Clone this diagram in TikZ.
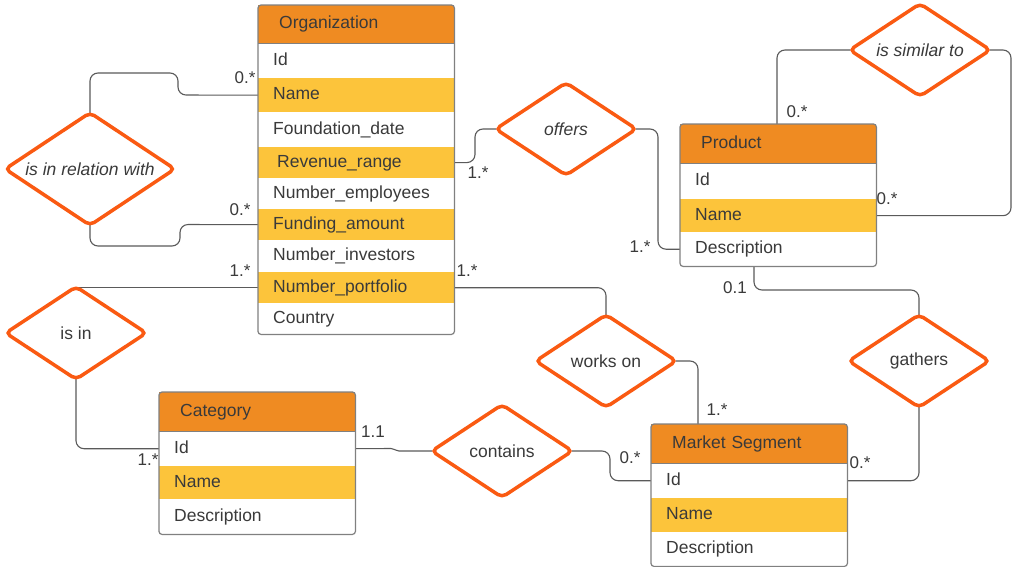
\documentclass[tikz,border=0pt]{standalone}
\usepackage{fontspec}
\setmainfont{Liberation Sans}
\usetikzlibrary{shapes.geometric,fit,calc}
\definecolor{hdr}{HTML}{EF8B22}
\definecolor{ylw}{HTML}{FCC43B}
\definecolor{dia}{HTML}{FA5A12}
\definecolor{ln}{HTML}{5A5A5A}
\definecolor{txt}{HTML}{3A3A3A}
\definecolor{frm}{HTML}{808080}
\pgfdeclarelayer{bg}
\pgfsetlayers{bg,main}
\begin{document}
\begin{tikzpicture}[x=1pt,y=-1pt,
  every node/.style={font=\fontsize{17.5}{20}\selectfont, text=txt},
  row/.style={anchor=north west, fill=white, minimum width=196pt, text width=166pt,
    inner xsep=15pt, inner ysep=0pt, align=left, minimum height=#1pt,
    text height=12.5pt, text depth=3.5pt},
  yrow/.style={row=#1, fill=ylw},
  hrow/.style={anchor=north west, fill=hdr, minimum width=196pt, text width=154pt,
    inner xsep=21pt, inner ysep=0pt, align=left, minimum height=#1pt,
    text height=12.5pt, text depth=3.5pt},
  frame/.style={draw=frm, line width=1.2pt, rounded corners=3pt, inner sep=0pt},
  hline/.style={draw=frm, line width=0.8pt},
  dmd/.style={diamond, draw=dia, line width=3.5pt, rounded corners=5pt, fill=white,
    inner sep=0pt, aspect=1.5, minimum width=142pt, minimum height=94pt},
  itl/.style={font=\fontsize{17.5}{20}\selectfont\itshape},
  conn/.style={draw=ln, line width=1.1pt, rounded corners=8pt,
    shorten >=-3pt, shorten <=-3pt},
  lbl/.style={inner sep=0pt, font=\fontsize{17}{20}\selectfont}
]
\useasboundingbox (0,0) rectangle (1013,567);

% Organization
\node[hrow=38] (org-h) at (258,5) {Organization};
\node[row=35] (org-id) at (258,43) {Id};
\node[yrow=34] (org-name) at (258,78) {Name};
\node[row=35] (org-fd) at (258,112) {Foundation\_date};
\node[yrow=31] (org-rev) at (258,147) {\hspace*{4pt}Revenue\_range};
\node[row=31] (org-emp) at (258,178) {Number\_employees};
\node[yrow=31] (org-fund) at (258,209) {Funding\_amount};
\node[row=32] (org-inv) at (258,240) {Number\_investors};
\node[yrow=31] (org-port) at (258,272) {Number\_portfolio};
\node[row=31] (org-cty) at (258,303) {Country};
\draw[hline] (org-h.south west) -- (org-h.south east);
\node[frame, fit=(org-h)(org-cty)] (org) {};

% Product
\node[hrow=39] (prod-h) at (680,124) {Product};
\node[row=36] (prod-id) at (680,163) {Id};
\node[yrow=33] (prod-name) at (680,199) {Name};
\node[row=34] (prod-desc) at (680,232) {Description};
\draw[hline] (prod-h.south west) -- (prod-h.south east);
\node[frame, fit=(prod-h)(prod-desc)] (prod) {};

% Category
\node[hrow=39] (cat-h) at (159,392) {Category};
\node[row=35] (cat-id) at (159,431) {Id};
\node[yrow=33] (cat-name) at (159,466) {Name};
\node[row=35] (cat-desc) at (159,499) {Description};
\draw[hline] (cat-h.south west) -- (cat-h.south east);
\node[frame, fit=(cat-h)(cat-desc)] (cat) {};

% Market Segment
\node[hrow=39] (ms-h) at (651,424) {Market Segment};
\node[row=35] (ms-id) at (651,463) {Id};
\node[yrow=34] (ms-name) at (651,498) {Name};
\node[row=34] (ms-desc) at (651,532) {Description};
\draw[hline] (ms-h.south west) -- (ms-h.south east);
\node[frame, fit=(ms-h)(ms-desc)] (ms) {};

% Relationships
\node[dmd, itl, minimum width=171pt, minimum height=114pt] (rel) at (90,169) {is in relation with};
\node[dmd, itl] (offers) at (566,129) {offers};
\node[dmd, itl] (similar) at (920,50) {is similar to};
\node[dmd] (isin) at (76,333) {is in};
\node[dmd] (workson) at (606,361) {works on};
\node[dmd] (gathers) at (919,361) {gathers};
\node[dmd] (contains) at (502,451) {contains};

% Connectors
\begin{pgfonlayer}{bg}
\fill[white] (0,0) rectangle (1013,567);
\draw[conn] (rel.north) -- (90,73) -- (178,73) -- (178,95) -- (org-name.west);
\draw[conn] (rel.south) -- (90,246) -- (180,246) -- (180,224.5) -- (org-fund.west);
\draw[conn] (org-rev.east) -- (475,162.5) -- (475,129) -- (offers.west);
\draw[conn] (offers.east) -- (658,129) |- (prod-desc.west);
\coordinate (ptop) at ($(prod-h.north west)+(97,0)$);
\draw[conn] (ptop) |- (similar.west);
\draw[conn] (similar.east) -- (1011,50) |- (prod-name.east);
\draw[conn, shorten >=0pt] (org-port.west) -- (isin.north |- org-port.west);
\draw[conn] (isin.south) |- (cat-id.west);
\draw[conn] (org-port.east) -| (workson.north);
\coordinate (mtop) at ($(ms-h.north west)+(47,0)$);
\draw[conn] (workson.east) -| (mtop);
\coordinate (pbot) at ($(prod-desc.south west)+(74,0)$);
\draw[conn] (pbot) -- (754,290) -| (gathers.north);
\draw[conn] (gathers.south) |- (ms-id.east);
\draw[conn, rounded corners=2pt] (cat-id.east) -- (393,448.5) -- (397,451) -- (contains.west);
\draw[conn] (contains.east) -- (610,451) |- (ms-id.west);
\end{pgfonlayer}

% Cardinality labels
\node[lbl] (l1) at (245,78) {0.*};
\node[lbl] (l2) at (240,210) {0.*};
\node[lbl] (l3) at (478,173) {1.*};
\node[lbl] (l4) at (640,247) {1.*};
\node[lbl] (l5) at (797,112) {0.*};
\node[lbl] (l6) at (887,199) {0.*};
\node[lbl] (l7) at (735,288) {0.1};
\node[lbl] (l8) at (240,271) {1.*};
\node[lbl] (l9) at (467,271) {1.*};
\node[lbl] (l10) at (148,460) {1.*};
\node[lbl] (l11) at (373,432) {1.1};
\node[lbl] (l12) at (630,458) {0.*};
\node[lbl] (l13) at (717,410) {1.*};
\node[lbl] (l14) at (860,463) {0.*};
\end{tikzpicture}
\end{document}
